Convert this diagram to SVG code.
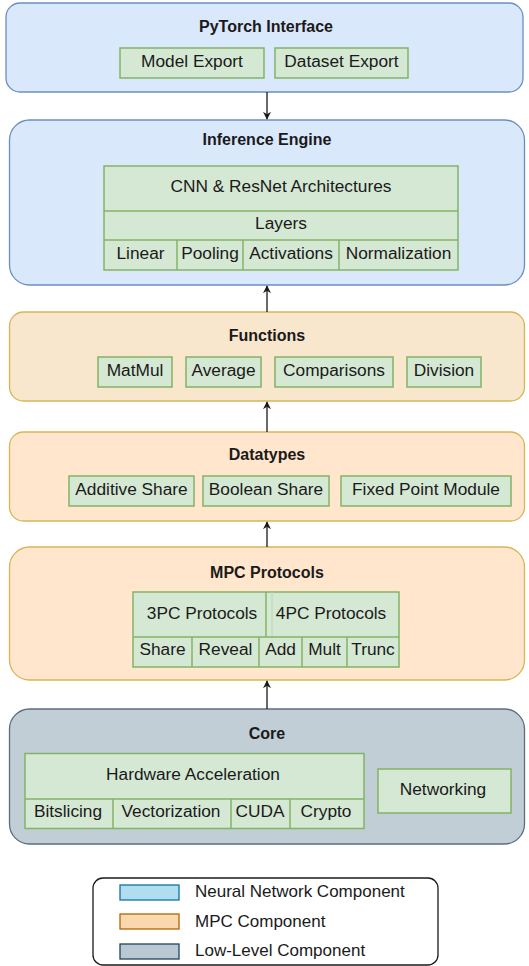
<svg xmlns="http://www.w3.org/2000/svg" width="529" height="966" viewBox="0 0 529 966">
<style>
text{font-family:"Liberation Sans",Arial,sans-serif;fill:#1a1a1a;text-anchor:middle}
.t{font-size:16px;font-weight:bold}
.i{font-size:17.3px}
.l{font-size:17px;text-anchor:start}
.g{fill:#d5e8d4;stroke:#82b366;stroke-width:1.5}
.blue{fill:#dae8fc;stroke:#6c8ebf;stroke-width:1.3}
.fn{fill:#f8e6cd;stroke:#d6b656;stroke-width:1.3}
.or{fill:#ffe6cc;stroke:#d6b656;stroke-width:1.3}
.core{fill:#c1ced6;stroke:#5b6f80;stroke-width:1.3}
.gl{stroke:#82b366;stroke-width:1.5;fill:none}
.c{stroke:#1a1a1a;stroke-width:1.3;fill:none}
</style>
<defs>
<marker id="ah" viewBox="0 0 10 10" refX="9" refY="5" markerWidth="8" markerHeight="8" orient="auto" markerUnits="userSpaceOnUse">
<path d="M0,0 L10,5 L0,10 L3,5 Z" fill="#1a1a1a"/>
</marker>
</defs>

<g id="pytorch">
<rect class="blue" x="6" y="3" width="517" height="89" rx="14"/>
<text class="t" x="266" y="32">PyTorch Interface</text>
<rect class="g" x="120" y="48" width="144" height="30"/>
<text class="i" x="192" y="67">Model Export</text>
<rect class="g" x="275" y="48" width="133" height="30"/>
<text class="i" x="341.5" y="67">Dataset Export</text>
</g>

<g id="inference">
<rect class="blue" x="9.5" y="120" width="515" height="165" rx="20"/>
<text class="t" x="267" y="145">Inference Engine</text>
<rect class="g" x="104" y="166" width="354" height="104"/>
<line class="gl" x1="104" y1="211" x2="458" y2="211"/>
<line class="gl" x1="104" y1="240" x2="458" y2="240"/>
<line class="gl" x1="177" y1="240" x2="177" y2="270"/>
<line class="gl" x1="243" y1="240" x2="243" y2="270"/>
<line class="gl" x1="339" y1="240" x2="339" y2="270"/>
<text class="i" x="281" y="192">CNN &amp; ResNet Architectures</text>
<text class="i" x="281" y="229">Layers</text>
<text class="i" x="140.5" y="258.5">Linear</text>
<text class="i" x="210" y="258.5">Pooling</text>
<text class="i" x="291" y="258.5">Activations</text>
<text class="i" x="398.5" y="258.5">Normalization</text>
</g>

<g id="functions">
<rect class="fn" x="9.5" y="312" width="515" height="89" rx="14"/>
<text class="t" x="267" y="341">Functions</text>
<rect class="g" x="98" y="357" width="74" height="30"/>
<text class="i" x="135" y="375.5">MatMul</text>
<rect class="g" x="186" y="357" width="75" height="30"/>
<text class="i" x="223.5" y="375.5">Average</text>
<rect class="g" x="275" y="357" width="118" height="30"/>
<text class="i" x="334" y="375.5">Comparisons</text>
<rect class="g" x="407" y="357" width="74" height="30"/>
<text class="i" x="444" y="375.5">Division</text>
</g>

<g id="datatypes">
<rect class="or" x="9.5" y="432" width="515" height="89" rx="14"/>
<text class="t" x="267" y="460">Datatypes</text>
<rect class="g" x="69" y="476" width="125" height="30"/>
<text class="i" x="131.5" y="494.5">Additive Share</text>
<rect class="g" x="203" y="476" width="126" height="30"/>
<text class="i" x="266" y="494.5">Boolean Share</text>
<rect class="g" x="341" y="476" width="170" height="30"/>
<text class="i" x="426" y="494.5">Fixed Point Module</text>
</g>

<g id="mpc">
<rect class="or" x="9.5" y="547" width="515" height="133" rx="20"/>
<text class="t" x="267" y="578">MPC Protocols</text>
<rect class="g" x="133" y="592" width="266" height="75"/>
<line class="gl" x1="266" y1="592" x2="266" y2="637"/>
<line stroke="#b9d8b3" stroke-width="1" x1="272" y1="592" x2="272" y2="637"/>
<line class="gl" x1="133" y1="637" x2="399" y2="637"/>
<line class="gl" x1="192" y1="637" x2="192" y2="667"/>
<line class="gl" x1="259" y1="637" x2="259" y2="667"/>
<line class="gl" x1="302" y1="637" x2="302" y2="667"/>
<line class="gl" x1="347" y1="637" x2="347" y2="667"/>
<text class="i" x="202" y="618.5">3PC Protocols</text>
<text class="i" x="331" y="618.5">4PC Protocols</text>
<text class="i" x="162.5" y="655">Share</text>
<text class="i" x="225.5" y="655">Reveal</text>
<text class="i" x="280.5" y="655">Add</text>
<text class="i" x="324.5" y="655">Mult</text>
<text class="i" x="373" y="655">Trunc</text>
</g>

<g id="core">
<rect class="core" x="9.5" y="709" width="515" height="135" rx="20"/>
<text class="t" x="267" y="739">Core</text>
<rect class="g" x="25" y="753.5" width="339" height="75"/>
<line class="gl" x1="25" y1="799" x2="364" y2="799"/>
<line class="gl" x1="113" y1="799" x2="113" y2="828.5"/>
<line class="gl" x1="231" y1="799" x2="231" y2="828.5"/>
<line class="gl" x1="290" y1="799" x2="290" y2="828.5"/>
<text class="i" x="193" y="779.5">Hardware Acceleration</text>
<text class="i" x="68" y="817">Bitslicing</text>
<text class="i" x="171" y="817">Vectorization</text>
<text class="i" x="260" y="817">CUDA</text>
<text class="i" x="326" y="817">Crypto</text>
<rect class="g" x="378" y="769" width="133" height="44"/>
<text class="i" x="443" y="795">Networking</text>
</g>

<g id="connectors">
<line class="c" x1="267" y1="92" x2="267" y2="119" marker-end="url(#ah)"/>
<line class="c" x1="267" y1="312" x2="267" y2="286" marker-end="url(#ah)"/>
<line class="c" x1="267" y1="432" x2="267" y2="402" marker-end="url(#ah)"/>
<line class="c" x1="267" y1="547" x2="267" y2="522" marker-end="url(#ah)"/>
<line class="c" x1="267" y1="709" x2="267" y2="681" marker-end="url(#ah)"/>
</g>

<g id="legend">
<rect x="93" y="878" width="345" height="87" rx="10" fill="#ffffff" stroke="#1a1a1a" stroke-width="1.3"/>
<rect x="120" y="885" width="59" height="15" fill="#b1ddf0" stroke="#10739e" stroke-width="1.3"/>
<text class="l" x="195" y="897">Neural Network Component</text>
<rect x="120" y="914" width="59" height="15" fill="#fad7ac" stroke="#b46504" stroke-width="1.3"/>
<text class="l" x="195" y="927">MPC Component</text>
<rect x="120" y="944" width="59" height="15" fill="#bac8d3" stroke="#23445d" stroke-width="1.3"/>
<text class="l" x="195" y="956">Low-Level Component</text>
</g>
</svg>
